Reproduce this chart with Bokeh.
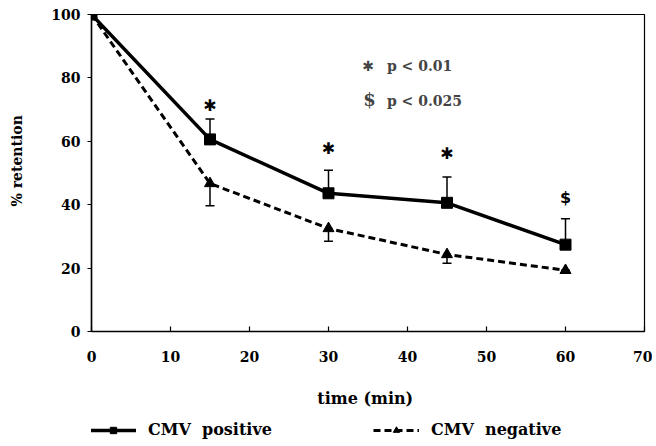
from bokeh.plotting import figure
from bokeh.layouts import column
from bokeh.models import (ColumnDataSource, Whisker, TeeHead, Label, Legend,
                          LegendItem, FixedTicker)
from bokeh.core.properties import value
from bokeh.embed import file_html
from bokeh.resources import INLINE

# ---- data ----
time_min = [0, 15, 30, 45, 60]
cmv_pos = [100, 60.6, 43.6, 40.6, 27.4]
cmv_pos_err_upper = [100, 67.0, 50.9, 48.7, 35.6]
cmv_neg = [100, 46.7, 32.5, 24.3, 19.3]
cmv_neg_err_lower = [100, 39.7, 28.5, 21.5, 19.3]
sig_x = [15, 30, 45, 60]
sig_y = [71.3, 57.8, 56.0, 42.3]
sig_sym = ["\u2731", "\u2731", "\u2731", "$"]
x_ticks = [0, 10, 20, 30, 40, 50, 60, 70]
y_ticks = [0, 20, 40, 60, 80, 100]
series_labels = ["CMV  positive", "CMV  negative"]

SERIF = "DejaVu Serif"

p = figure(width=652, height=411, x_range=(0, 70), y_range=(0, 100),
           output_backend="svg", toolbar_location=None,
           min_border_left=91, min_border_right=8, min_border_top=14,
           min_border_bottom=80, frame_width=553, frame_height=317)
p.grid.visible = False
p.outline_line_color = "black"
p.outline_line_width = 1.2
p.background_fill_color = "white"
p.border_fill_color = "white"

# axes
p.xaxis.ticker = FixedTicker(ticks=x_ticks)
p.yaxis.ticker = FixedTicker(ticks=y_ticks)
for ax in (p.xaxis[0], p.yaxis[0]):
    ax.axis_line_color = "black"
    ax.axis_line_width = 1.5
    ax.major_tick_line_color = "black"
    ax.major_tick_line_width = 1.2
    ax.minor_tick_line_color = None
    ax.major_label_text_font = SERIF
    ax.major_label_text_font_style = "bold"
    ax.major_label_text_font_size = "14px"
    ax.major_label_text_color = "black"
    ax.axis_label_text_font = SERIF
    ax.axis_label_text_font_style = "bold"
    ax.axis_label_text_color = "black"

p.xaxis.major_tick_in = 5
p.xaxis.major_tick_out = 0
p.xaxis.major_label_standoff = 19
p.xaxis.axis_label = "time  (min)"
p.xaxis.axis_label_text_font_size = "16px"
p.xaxis.axis_label_standoff = 24

p.yaxis.major_tick_in = 0
p.yaxis.major_tick_out = 4
p.yaxis.major_label_standoff = 7
p.yaxis.axis_label = "\u00a0" * 5 + "% retention"
p.yaxis.axis_label_text_font_size = "14px"
p.yaxis.axis_label_standoff = 23

src = ColumnDataSource(dict(t=time_min, pos=cmv_pos, pos_up=cmv_pos_err_upper,
                            neg=cmv_neg, neg_lo=cmv_neg_err_lower))

# error bars
w_pos = Whisker(source=src, base="t", upper="pos_up", lower="pos",
                line_color="black", line_width=1.5,
                upper_head=TeeHead(size=9, line_width=1.5, line_color="black"),
                lower_head=None)
w_neg = Whisker(source=src, base="t", upper="neg", lower="neg_lo",
                line_color="black", line_width=1.5,
                lower_head=TeeHead(size=9, line_width=1.5, line_color="black"),
                upper_head=None)
p.add_layout(w_pos)
p.add_layout(w_neg)

# series
POS_LINE = dict(line_color="black", line_width=3.5)
NEG_LINE = dict(line_color="black", line_width=3, line_dash="7 4")
POS_MARK = dict(marker="square", size=11, fill_color="black", line_color="black")
NEG_MARK = dict(marker="triangle", size=11, fill_color="black", line_color="black")
l_neg = p.line("t", "neg", source=src, **NEG_LINE)
m_neg = p.scatter("t", "neg", source=src, **NEG_MARK)
l_pos = p.line("t", "pos", source=src, **POS_LINE)
m_pos = p.scatter("t", "pos", source=src, **POS_MARK)

# significance markers
sig_src = ColumnDataSource(dict(x=sig_x, y=sig_y, s=sig_sym))
p.text("x", "y", text="s", source=sig_src, text_font=value("DejaVu Sans"),
       text_font_style="bold", text_font_size="16px", text_align="center",
       text_baseline="middle", text_color="black")

# key text
p.add_layout(Label(x=35.0, y=83.9, text="\u2731", text_font="DejaVu Sans",
                   text_font_size="14px", text_font_style="bold",
                   text_align="center", text_baseline="middle"))
p.add_layout(Label(x=37.4, y=83.6, text="p < 0.01", text_font=SERIF,
                   text_font_size="14px", text_font_style="bold",
                   text_align="left", text_baseline="middle"))
p.add_layout(Label(x=35.2, y=73.2, text="$", text_font=SERIF,
                   text_font_size="18px", text_font_style="bold",
                   text_align="center", text_baseline="middle"))
p.add_layout(Label(x=37.4, y=72.6, text="p < 0.025", text_font=SERIF,
                   text_font_size="14px", text_font_style="bold",
                   text_align="left", text_baseline="middle"))

# legend strip below the chart; the same series are drawn there but lie
# outside its ranges, so only the legend samples are visible
p2 = figure(width=652, height=33, x_range=(1000, 1001), y_range=(1000, 1001),
            output_backend="svg", toolbar_location=None,
            x_axis_location=None, y_axis_location=None,
            min_border_left=0, min_border_right=0, min_border_top=0,
            min_border_bottom=0)
p2.grid.visible = False
p2.outline_line_color = None
e_pos_l = p2.line("t", "pos", source=src, **POS_LINE)
e_pos_m = p2.scatter("t", "pos", source=src, **POS_MARK)
e_neg_l = p2.line("t", "neg", source=src, **NEG_LINE)
e_neg_m = p2.scatter("t", "neg", source=src, **NEG_MARK)
legend = Legend(items=[LegendItem(label=series_labels[0], renderers=[e_pos_l, e_pos_m]),
                       LegendItem(label=series_labels[1], renderers=[e_neg_l, e_neg_m])],
                location=(-1, 5), orientation="horizontal",
                glyph_width=46, glyph_height=16, label_standoff=12,
                label_width=210, spacing=15,
                padding=0, margin=0, border_line_color=None,
                background_fill_alpha=0,
                label_text_font=SERIF, label_text_font_style="bold",
                label_text_font_size="16px", label_text_color="black")
p2.add_layout(legend, "center")

layout = column(p, p2, spacing=0)
open("out.html", "w").write(file_html(layout, INLINE))
